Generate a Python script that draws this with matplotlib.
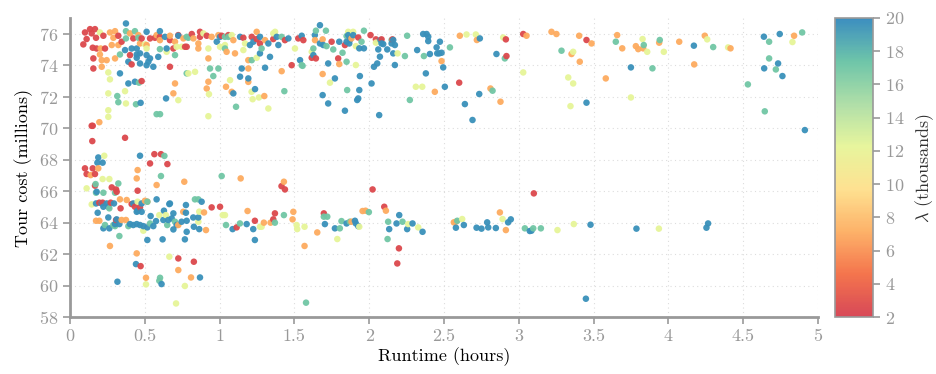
import numpy as np
import matplotlib
matplotlib.use('Agg')
import matplotlib.pyplot as plt
from matplotlib.ticker import FuncFormatter
from matplotlib.colors import LinearSegmentedColormap

# points, grouped by colour (lambda in thousands)
red_lam = 2.6
red_x = [0.100, 0.134, 0.167, 0.111, 0.145, 0.174, 0.089, 0.152, 0.178, 0.156, 0.156, 0.223, 0.234, 0.323, 0.345,
         0.401, 0.412, 0.423, 0.479, 0.535, 0.568, 0.601, 0.691, 0.668, 0.724, 0.780, 0.668,
         0.814, 0.869, 0.869, 0.914, 1.014, 1.059, 1.159, 1.248, 1.270, 1.215, 1.359, 1.437, 1.526, 1.616, 1.482,
         1.560, 0.769, 0.479, 0.145, 0.152, 0.368, 0.149, 0.564, 0.608,
         1.749, 1.838, 1.927, 1.793, 1.644, 2.009, 2.045, 2.083, 2.156, 2.602, 2.914, 2.918, 3.030, 3.453,
         0.535, 0.651, 0.100, 0.152, 0.111, 0.167, 0.167, 0.279, 0.308, 0.312, 0.452, 0.196, 0.218, 0.272, 0.338,
         0.412, 0.434, 0.468, 0.308, 0.724, 0.472, 0.828, 1.414, 1.437, 0.947, 1.003, 1.114, 1.236, 1.359, 1.370,
         1.697, 2.023, 2.101, 2.199, 2.188, 3.101]
red_y = [76.08, 76.29, 76.29, 75.66, 76.02, 75.74, 75.32, 75.11, 75.06, 74.43, 73.79, 75.87, 75.06, 75.87, 75.49,
         74.64, 74.05, 75.70, 75.70, 75.70, 75.74, 75.80, 75.06, 75.59, 75.91, 75.17, 73.90,
         75.98, 76.12, 75.80, 75.87, 75.87, 75.91, 75.74, 75.66, 75.38, 75.80, 75.66, 75.59, 75.70, 74.47, 74.00,
         75.59, 75.17, 72.99, 70.15, 70.15, 69.39, 69.18, 68.35, 68.35,
         75.49, 75.28, 75.76, 74.43, 74.43, 75.91, 75.64, 75.64, 75.64, 72.89, 75.64, 74.58, 75.98, 75.60,
         67.76, 67.72, 67.45, 67.45, 67.09, 67.09, 66.35, 66.24, 66.11, 65.96, 66.03, 65.27, 65.27, 65.27, 64.91,
         65.18, 65.01, 64.97, 64.17, 61.73, 61.24, 61.52, 66.32, 66.11, 64.97, 65.01, 63.70, 64.12, 64.21, 64.59,
         64.59, 66.11, 65.01, 62.37, 61.41, 65.86]

orange_lam = 7.0
orange_x = [0.267, 0.301, 0.290, 0.279, 0.323, 0.205, 0.200, 0.212, 0.212, 0.245, 0.301, 0.401, 0.457, 0.579, 0.468,
            0.512, 0.601, 0.668, 0.702, 0.758, 0.702,
            0.825, 0.858, 0.858, 0.947, 0.992, 1.092, 1.248, 1.304, 0.925, 0.925, 1.047, 1.103, 1.192, 1.192, 1.415,
            1.638, 0.691, 0.196, 0.914, 1.043, 1.081, 1.192, 1.299,
            1.689, 1.882, 1.800, 1.689, 2.484, 2.439, 2.606, 2.720, 2.811, 2.878, 3.052, 3.219, 3.252, 3.353, 3.404,
            3.408, 3.487, 3.582, 3.658, 3.692, 3.783, 3.799, 3.832, 3.939, 4.073, 4.173, 4.244, 4.416, 4.841,
            0.189, 0.138, 0.452, 0.446, 0.579, 0.764, 0.334, 0.379, 0.501, 0.517, 0.174, 0.196, 0.345, 0.374, 0.724,
            0.757, 0.267, 0.446, 0.508, 0.724, 0.809, 1.141, 1.430, 0.896, 0.909, 1.187, 1.296, 1.341, 1.488, 1.493,
            1.568, 1.653, 1.882, 1.956, 1.976, 2.112, 2.566, 2.580, 2.874, 2.914]
orange_y = [76.08, 76.16, 75.74, 75.28, 75.28, 75.06, 74.68, 74.32, 73.90, 74.32, 74.43, 76.02, 75.91, 75.91, 75.38,
            75.28, 75.59, 75.87, 75.49, 75.70, 72.84,
            75.70, 75.38, 75.06, 75.80, 75.91, 75.59, 76.12, 75.59, 74.43, 72.95, 74.85, 74.75, 74.32, 73.79, 73.62,
            75.59, 72.21, 70.38, 72.52, 72.63, 72.31, 72.94, 72.04,
            75.64, 75.70, 74.07, 73.44, 74.26, 72.31, 75.87, 75.60, 72.52, 71.68, 75.87, 76.12, 75.98, 74.71, 75.87,
            74.22, 75.38, 73.16, 75.91, 75.07, 75.21, 75.02, 75.07, 75.43, 75.49, 74.05, 75.87, 75.07, 75.87,
            67.45, 67.02, 67.34, 66.81, 66.39, 66.60, 65.48, 65.44, 65.39, 65.33, 64.12, 64.12, 64.17, 64.17, 63.85,
            64.69, 62.52, 62.05, 60.50, 60.99, 60.52, 66.81, 66.60, 64.65, 63.53, 64.74, 64.00, 64.00, 64.21, 64.69,
            62.52, 63.38, 64.06, 64.74, 64.76, 64.76, 64.02, 64.06, 64.65, 63.53]

yellow_lam = 12.2
yellow_x = [0.200, 0.256, 0.267, 0.501, 0.512, 0.713, 0.746, 0.646,
            0.791, 0.836, 0.892, 0.925, 1.003, 1.036, 1.081, 1.170, 1.159, 1.248, 1.371, 1.504, 1.616, 1.359, 1.070,
            0.256, 0.368, 0.374, 0.724, 0.256, 0.256, 0.925, 0.929, 1.214, 1.221, 1.263, 1.326,
            1.860, 1.893, 1.911, 1.911, 1.738, 2.045, 2.190, 2.312, 2.355, 2.651, 2.713, 2.896, 3.030, 3.364, 3.331,
            3.364, 3.346, 3.750, 3.828, 3.859, 3.970, 4.260, 4.400, 4.830,
            0.229, 0.218, 0.263, 0.111, 0.145, 0.452, 0.490, 0.597, 0.641, 0.664, 0.508, 0.709, 0.768, 1.021, 1.036,
            0.864, 0.858, 1.270, 1.281, 1.515, 1.519, 1.568, 1.787, 1.934, 2.261, 2.328, 2.622, 2.892, 3.259, 3.368,
            3.937]
yellow_y = [76.08, 73.54, 73.10, 75.32, 75.06, 75.17, 75.17, 74.85,
            73.48, 73.58, 76.02, 75.06, 75.17, 75.28, 75.91, 75.38, 74.96, 74.47, 76.12, 75.06, 74.85, 76.02, 73.05,
            72.21, 72.35, 71.57, 71.78, 71.14, 70.72, 70.76, 72.16, 72.31, 71.84, 71.95, 71.25,
            76.12, 76.12, 75.21, 74.01, 72.89, 75.43, 74.75, 72.63, 72.63, 75.95, 75.95, 75.76, 73.54, 74.85, 73.22,
            72.84, 71.40, 71.95, 75.66, 74.85, 74.85, 75.64, 75.13, 75.47,
            68.25, 66.77, 66.77, 66.18, 65.16, 65.33, 63.49, 64.48, 64.48, 61.84, 60.08, 58.87, 59.98, 64.48, 64.48,
            64.70, 64.06, 63.74, 63.74, 63.85, 63.59, 63.74, 62.96, 63.74, 63.91, 63.70, 64.23, 64.23, 63.53, 63.91,
            63.62]

green_lam = 17.0
green_x = [0.374, 0.434, 0.374, 0.457, 0.334, 0.601, 0.702, 0.791, 0.780,
           0.780, 0.936, 0.992, 0.958, 1.036, 1.059, 1.036, 1.215, 1.281, 1.549, 1.627, 1.415,
           0.461, 0.316, 0.323, 0.441, 0.579, 0.602, 0.631, 1.110, 1.433, 1.555,
           1.644, 1.711, 1.715, 1.849, 1.965, 1.949, 1.760, 1.822, 1.849, 1.853, 2.150, 2.239, 2.254, 2.272, 2.366,
           2.540, 2.825, 2.907, 3.286, 3.649, 3.836, 3.894, 3.943, 4.300, 4.532, 4.674, 4.895, 4.674, 4.719, 4.645,
           0.608, 0.171, 0.223, 0.174, 0.301, 0.323, 0.263, 0.517, 0.290, 0.301, 0.234, 0.390, 0.535, 0.650, 0.702,
           0.330, 0.602, 0.597, 1.014, 1.043, 0.835, 0.858, 1.136, 1.370, 1.430, 1.578, 1.697, 1.720, 1.804, 1.815,
           1.871, 1.998, 2.127, 2.123, 2.223, 2.589, 3.041, 3.097, 3.148]
green_y = [76.16, 76.16, 75.70, 75.74, 74.68, 75.02, 74.64, 75.74, 73.48,
           75.80, 73.79, 73.79, 73.31, 75.80, 75.80, 75.06, 74.32, 75.06, 74.00, 75.06, 75.80,
           72.89, 72.04, 71.65, 71.52, 70.89, 70.89, 68.24, 71.36, 72.35, 73.96,
           76.19, 76.19, 75.21, 75.85, 76.19, 75.49, 75.00, 74.79, 74.22, 72.42, 75.60, 74.58, 75.87, 71.79, 74.58,
           75.13, 72.38, 74.43, 74.92, 75.49, 75.28, 73.80, 75.60, 75.15, 72.78, 75.49, 76.08, 74.43, 73.73, 71.07,
           66.96, 66.45, 65.90, 65.90, 65.90, 66.49, 64.91, 65.33, 63.85, 63.78, 63.85, 63.78, 63.95, 63.85, 64.06,
           63.15, 60.50, 60.31, 66.96, 63.85, 65.48, 65.48, 63.95, 64.00, 64.48, 58.92, 64.38, 64.38, 63.64, 64.10,
           64.06, 64.67, 64.06, 62.96, 64.06, 64.12, 63.64, 63.64, 63.64]

blue_lam = 19.6
blue_x = [0.374, 0.512, 0.601, 0.635, 0.724, 0.368, 0.412, 0.446, 0.446, 0.468, 0.446, 0.512, 0.535, 0.524, 0.468,
          0.512, 0.557, 0.590, 0.646, 0.390, 0.334, 0.390, 0.434,
          1.003, 0.981, 1.137, 1.148, 1.203, 1.226, 1.270, 1.270, 1.326, 1.337, 1.304, 1.382, 1.393, 1.460, 1.538,
          1.549, 1.627, 1.671, 1.137, 1.192, 0.472, 0.642, 1.092, 1.237,
          1.637, 1.671, 1.693, 1.800, 1.849, 1.867, 1.871, 1.860, 1.893, 1.934, 1.965, 1.726, 1.771, 1.938, 1.934,
          1.689, 1.726, 1.838, 1.920, 1.927, 2.067, 2.016, 2.032, 2.054, 2.072, 2.061, 2.083, 2.076, 2.094, 2.150,
          2.172, 2.161, 2.121, 2.161, 2.172, 2.321, 2.361, 2.384, 2.395, 2.395, 2.379, 2.406, 2.451, 2.473, 2.455,
          2.468, 2.484, 2.495, 2.506, 2.640, 2.691, 2.736, 2.740, 2.851,
          3.453, 3.750, 4.171, 4.639, 4.745, 4.734, 4.641, 4.763, 4.913,
          0.189, 0.183, 0.218, 0.468, 0.178, 0.174, 0.212, 0.245, 0.294, 0.223, 0.256, 0.423, 0.479, 0.452, 0.479,
          0.446, 0.579, 0.668, 0.185, 0.256, 0.312, 0.330, 0.301, 0.223, 0.263, 0.401, 0.423, 0.446, 0.468, 0.490,
          0.517, 0.539, 0.575, 0.557, 0.628, 0.664, 0.624, 0.657, 0.680, 0.691, 0.691, 0.713, 0.746, 0.775, 0.780,
          0.780, 0.768, 0.517, 0.619, 0.317, 0.441, 0.612, 0.869, 0.880, 0.775, 0.824, 0.858, 0.828, 0.864, 1.087,
          1.181, 1.225, 1.236, 1.704, 1.771, 1.849, 1.905, 1.911, 1.927, 2.134, 2.183, 2.201, 2.254, 2.290, 2.357,
          2.580, 2.633, 2.718, 2.751, 2.796, 2.847, 2.789, 2.929, 2.947, 3.074, 3.085, 3.480, 3.449, 3.787, 4.255,
          4.266]
blue_y = [76.65, 76.12, 76.16, 75.80, 75.87, 74.96, 75.06, 75.06, 74.68, 74.75, 74.47, 74.64, 74.43, 74.22, 74.11,
          74.00, 73.90, 74.53, 75.06, 74.22, 73.48, 72.84, 72.95,
          75.80, 75.49, 75.80, 73.79, 75.28, 75.49, 75.80, 74.75, 75.38, 74.53, 73.84, 75.80, 75.28, 75.70, 74.32,
          75.87, 74.64, 76.54, 73.27, 73.16, 71.61, 71.89, 72.21, 72.48,
          75.91, 75.38, 75.28, 75.49, 75.49, 75.38, 75.60, 75.91, 75.91, 75.07, 75.07, 74.11, 73.16, 73.31, 72.42,
          72.10, 71.57, 71.11, 71.79, 71.89, 70.83, 72.84, 73.90, 74.11, 74.54, 75.00, 75.38, 75.60, 75.34, 75.38,
          75.28, 75.60, 75.00, 74.75, 74.01, 74.96, 75.98, 75.98, 75.81, 75.53, 73.48, 74.71, 75.13, 75.49, 74.75,
          74.75, 74.79, 73.86, 72.63, 71.53, 70.52, 72.17, 75.70, 74.71,
          71.62, 73.86, 75.24, 75.81, 75.98, 74.11, 73.80, 73.31, 69.88,
          68.14, 67.81, 67.81, 68.25, 65.96, 65.22, 65.22, 65.22, 65.22, 65.01, 65.01, 65.22, 65.22, 64.76, 64.69,
          64.69, 65.48, 65.22, 64.63, 64.33, 64.21, 63.91, 63.91, 63.64, 63.64, 63.91, 63.85, 63.91, 63.85, 63.78,
          63.70, 64.42, 64.10, 63.78, 64.76, 65.18, 64.17, 64.17, 64.27, 64.59, 63.57, 63.85, 64.06, 64.63, 64.12,
          63.42, 62.94, 62.90, 62.94, 60.25, 61.37, 60.10, 60.52, 65.33, 65.12, 64.33, 64.33, 63.74, 63.59, 63.59,
          63.91, 63.59, 62.90, 63.91, 63.64, 63.95, 64.12, 63.95, 63.78, 63.59, 63.95, 64.48, 63.59, 63.95, 63.42,
          63.68, 63.85, 63.68, 63.62, 63.70, 63.66, 64.02, 64.02, 64.21, 63.47, 63.49, 63.87, 59.17, 63.62, 63.68,
          63.95]

plt.rcParams['font.family'] = 'cmr10'
plt.rcParams['mathtext.fontset'] = 'cm'
plt.rcParams['axes.formatter.use_mathtext'] = True

# ColorBrewer Spectral without the dark ends
spectral = LinearSegmentedColormap.from_list(
    'spectral8', ['#d53e4f', '#f46d43', '#fdae61', '#fee08b', '#e6f598', '#abdda4', '#66c2a5', '#3288bd'])

runtime = np.array(red_x + orange_x + yellow_x + green_x + blue_x)
cost = np.array(red_y + orange_y + yellow_y + green_y + blue_y)
lam = np.concatenate([np.full(len(red_x), red_lam), np.full(len(orange_x), orange_lam),
                      np.full(len(yellow_x), yellow_lam), np.full(len(green_x), green_lam),
                      np.full(len(blue_x), blue_lam)])
order = np.argsort(runtime, kind='stable')

grey = '#999999'
fig = plt.figure(figsize=(9.36, 3.74), dpi=100)
ax = fig.add_axes([0.0748, 0.152, 0.799, 0.800])
cax = fig.add_axes([0.892, 0.152, 0.041, 0.800])

sc = ax.scatter(runtime[order], cost[order], c=lam[order], cmap=spectral, vmin=2, vmax=20,
                s=22, linewidths=0, alpha=0.95, zorder=3)

ax.set_xlim(0, 5)
ax.set_ylim(58, 77)
ax.set_xticks(np.arange(0, 5.01, 0.5))
ax.set_yticks(np.arange(58, 77, 2))
ax.xaxis.set_major_formatter(FuncFormatter(lambda v, p: '%g' % v))
ax.grid(True, linestyle=(0, (1, 3)), color='#dddddd', linewidth=0.8)
for side in ['top', 'right']:
    ax.spines[side].set_visible(False)
for side in ['left', 'bottom']:
    ax.spines[side].set_color(grey)
    ax.spines[side].set_linewidth(2)
ax.tick_params(colors=grey, labelsize=13, length=5, width=1.2, direction='out')
ax.set_xlabel('Runtime (hours)', fontsize=13, labelpad=2)
ax.set_ylabel('Tour cost (millions)', fontsize=13, labelpad=4)

cb = fig.colorbar(sc, cax=cax, ticks=np.arange(2, 21, 2))
cb.outline.set_edgecolor(grey)
cb.outline.set_linewidth(1.2)
cb.ax.tick_params(colors=grey, labelsize=13, length=5, width=1.2)
cb.set_label(r'$\lambda$ (thousands)', fontsize=13, color='#333333', labelpad=6)

plt.savefig('out.png', dpi=100)
